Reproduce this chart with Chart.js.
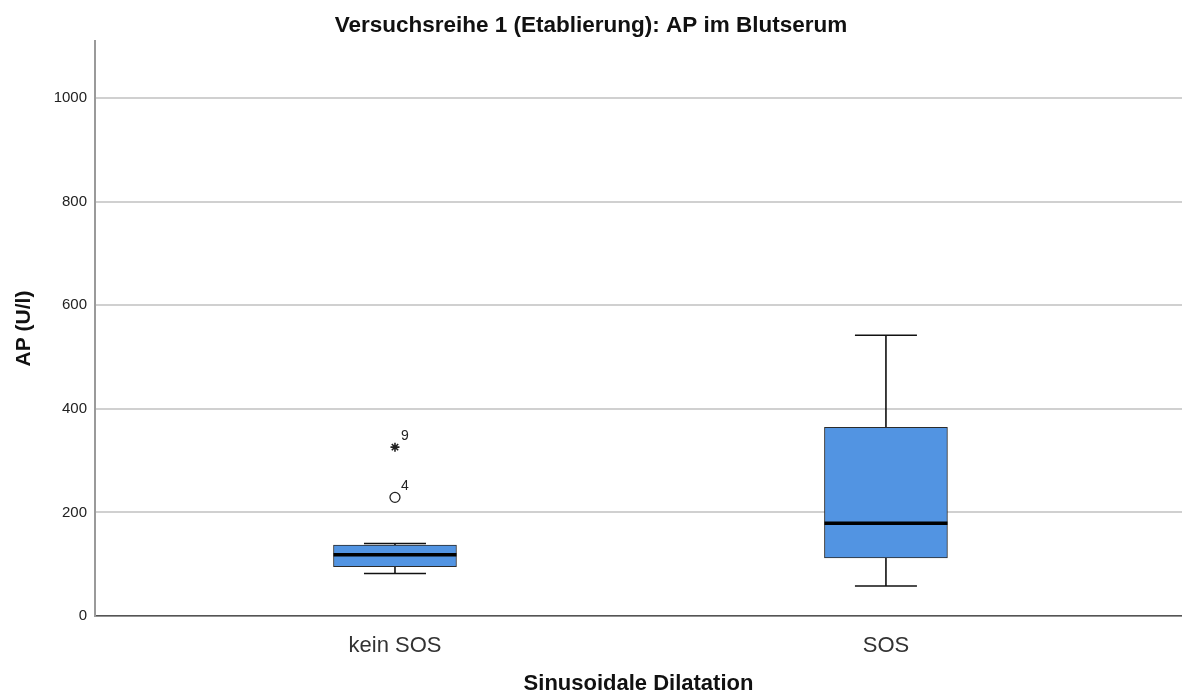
<!DOCTYPE html>
<html lang="de">
<head>
<meta charset="utf-8">
<title>Versuchsreihe 1 (Etablierung): AP im Blutserum</title>
<script src="https://cdn.jsdelivr.net/npm/chart.js@4.4.1/dist/chart.umd.min.js"></script>
<style>
  html, body { margin: 0; padding: 0; background: #ffffff; }
  #wrap { width: 1182px; height: 695px; }
</style>
</head>
<body>
<div id="wrap"><canvas id="chart" width="1182" height="695"></canvas></div>
<script>
// Groups on the x axis
const categories = ['kein SOS', 'SOS'];

// Five-number summaries per group (U/l)
const whiskerLow  = [82, 58];
const quartile1   = [95, 112];
const medians     = [118, 179];
const quartile3   = [137, 364];
const whiskerHigh = [140, 542];

// Outliers: group index, value, case number, kind
const outlierGroup = [0, 0];
const outlierValue = [229, 326];
const outlierCase  = ['4', '9'];
const outlierKind  = ['circle', 'star'];

// Y axis ticks
const yTicks = [0, 200, 400, 600, 800, 1000];
const yMax = 1110;

const FONT = "'Liberation Sans', Arial, Helvetica, sans-serif";
const BOX_FILL = '#5294e2';
const pos = categories.map((_, i) => i + 1);

// Boxes as floating bars from Q1 to Q3
const boxData = pos.map((x, i) => ({ x, y: [quartile1[i], quartile3[i]] }));

// Whisker stems, separated by gaps
const stemData = [];
pos.forEach((x, i) => {
  stemData.push({ x, y: quartile3[i] }, { x, y: whiskerHigh[i] }, { x, y: null });
  stemData.push({ x, y: quartile1[i] }, { x, y: whiskerLow[i] }, { x, y: null });
});

// Whisker caps and medians as horizontal line markers
const capData = [];
pos.forEach((x, i) => {
  capData.push({ x, y: whiskerHigh[i] }, { x, y: whiskerLow[i] });
});
const medianData = pos.map((x, i) => ({ x, y: medians[i] }));

const outlierData = outlierValue.map((v, i) => ({ x: pos[outlierGroup[i]], y: v }));

// Case numbers next to outlier symbols
const caseLabels = {
  id: 'caseLabels',
  afterDatasetsDraw(chart) {
    const meta = chart.getDatasetMeta(4);
    const ctx = chart.ctx;
    ctx.save();
    ctx.font = '14px ' + FONT;
    ctx.fillStyle = '#222222';
    ctx.textAlign = 'left';
    ctx.textBaseline = 'middle';
    meta.data.forEach((el, i) => {
      ctx.fillText(outlierCase[i], el.x + 6, el.y - 11);
    });
    ctx.restore();
  }
};

new Chart(document.getElementById('chart'), {
  type: 'bar',
  data: {
    datasets: [
      {
        type: 'bar',
        data: boxData,
        backgroundColor: BOX_FILL,
        borderColor: '#2b2b2b',
        borderWidth: 1,
        borderSkipped: false,
        barThickness: 123,
        order: 3
      },
      {
        type: 'line',
        data: stemData,
        borderColor: '#111111',
        borderWidth: 1.6,
        pointRadius: 0,
        spanGaps: false,
        fill: false,
        order: 4
      },
      {
        type: 'line',
        data: capData,
        showLine: false,
        pointStyle: 'line',
        pointRadius: 31,
        pointBorderColor: '#111111',
        pointBorderWidth: 1.6,
        order: 2
      },
      {
        type: 'line',
        data: medianData,
        showLine: false,
        pointStyle: 'line',
        pointRadius: 61.5,
        pointBorderColor: '#000000',
        pointBorderWidth: 3.5,
        order: 1
      },
      {
        type: 'line',
        data: outlierData,
        showLine: false,
        pointStyle: outlierKind,
        pointRadius: [5, 4.5],
        pointBackgroundColor: '#ffffff',
        pointBorderColor: '#222222',
        pointBorderWidth: [1.3, 1.6],
        order: 0
      }
    ]
  },
  options: {
    responsive: false,
    animation: false,
    layout: { padding: 0, autoPadding: false },
    plugins: {
      legend: { display: false },
      tooltip: { enabled: false },
      title: {
        display: true,
        text: 'Versuchsreihe 1 (Etablierung): AP im Blutserum',
        color: '#111111',
        font: { family: FONT, size: 22.5, weight: 'bold', lineHeight: 1 },
        padding: { top: 15, bottom: 3.5 }
      }
    },
    scales: {
      x: {
        type: 'linear',
        offset: false,
        min: 0.389,
        max: 2.603,
        afterFit(scale) { scale.height = 79; },
        afterBuildTicks(scale) { scale.ticks = pos.map(v => ({ value: v })); },
        grid: { display: false, offset: false },
        border: { display: true, color: '#555555', width: 1.5 },
        ticks: {
          autoSkip: false,
          maxRotation: 0,
          padding: 9,
          color: '#333333',
          font: { family: FONT, size: 22 },
          callback: (v, i) => categories[i]
        },
        title: {
          display: true,
          text: 'Sinusoidale Dilatation',
          color: '#111111',
          font: { family: FONT, size: 22, weight: 'bold', lineHeight: 1 },
          padding: { top: 0, bottom: 0 }
        }
      },
      y: {
        type: 'linear',
        min: 0,
        max: yMax,
        afterFit(scale) { scale.width = 95; },
        afterBuildTicks(scale) { scale.ticks = yTicks.map(v => ({ value: v })); },
        grid: { color: '#d0d0d0', lineWidth: 2, drawTicks: false },
        border: { display: true, color: '#9a9a9a', width: 2 },
        ticks: {
          padding: 8,
          color: '#222222',
          font: { family: FONT, size: 15 },
          callback: v => String(v)
        },
        title: {
          display: true,
          text: 'AP (U/l)',
          color: '#111111',
          font: { family: FONT, size: 21, weight: 'bold', lineHeight: 1 },
          padding: { top: 14, bottom: 0 }
        }
      }
    }
  },
  plugins: [caseLabels]
});
</script>
</body>
</html>
